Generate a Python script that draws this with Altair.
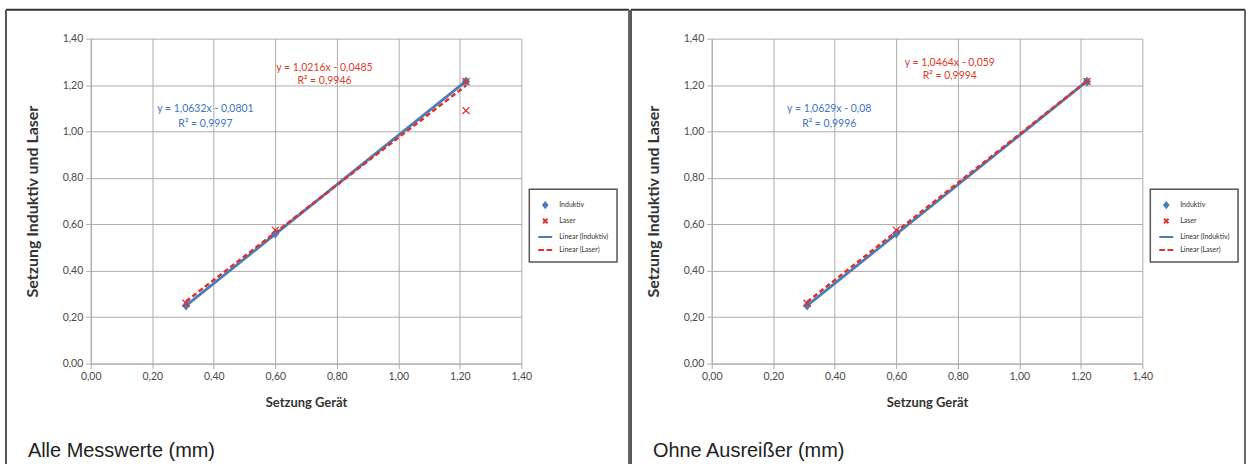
import altair as alt
import pandas as pd

# Settlement measurements in mm (x: device, y: inductive / laser)
geraet = [0.31, 0.60, 1.22]
induktiv = [0.25, 0.56, 1.215]
laser = [0.26, 0.575, 1.215]
ausreisser_x = [1.22]
ausreisser_y = [1.09]

# Linear trend lines (slope, intercept, R²) for Induktiv / Laser
steigung_alle = [1.0632, 1.0216]
achse_alle = [-0.0801, -0.0485]
r2_alle = [0.9997, 0.9946]
steigung_ohne = [1.0629, 1.0464]
achse_ohne = [-0.08, -0.059]
r2_ohne = [0.9996, 0.9994]

serien = ["Induktiv", "Laser"]
legende = ["Induktiv", "Laser", "Linear (Induktiv)", "Linear (Laser)"]
tick_werte = [0.0, 0.2, 0.4, 0.6, 0.8, 1.0, 1.2, 1.4]
titel = ["Alle Messwerte (mm)", "Ohne Ausreißer (mm)"]

BLAU = "#4a7ebb"
ROT = "#e0312b"
BLAU_TXT = "#3f74c4"
ROT_TXT = "#e03a2a"
GRID = "#acacac"
FONT = "Lato"

# Symbols: diamond, X, solid line, dashed line
formen = [
    "M0,-0.36L0.3,0L0,0.36L-0.3,0Z",
    "M-0.32,-0.32L0.32,0.32M-0.32,0.32L0.32,-0.32",
    "M-1,0L1,0",
    "M-1,0L-0.18,0M0.18,0L1,0",
]
farben = [BLAU, ROT, BLAU, ROT]


def fmt(v, stellen=4):
    s = f"{abs(v):.{stellen}f}".rstrip("0").rstrip(".")
    return s.replace(".", ",")


def gleichung(m, b):
    vz = "-" if b < 0 else "+"
    return f"y = {fmt(m)}x {vz} {fmt(b)}"


lab_expr = "replace(format(datum.value, '.2f'), '.', ',')"

x_enc = alt.X(
    "x:Q",
    scale=alt.Scale(domain=[0, 1.4], nice=False, zero=False),
    axis=alt.Axis(
        values=tick_werte, labelExpr=lab_expr, title="Setzung Gerät",
        grid=True, gridColor=GRID, domainColor=GRID, tickColor=GRID,
        tickSize=5, labelFontSize=10.5, labelColor="#4a4a4a", labelPadding=3,
        labelFlush=False, labelOverlap=False,
        titleFontSize=13, titleFont=FONT, titleFontWeight="bold",
        titleColor="#333", titlePadding=15, labelFont=FONT,
    ),
)
y_enc = alt.Y(
    "y:Q",
    scale=alt.Scale(domain=[0, 1.4], nice=False, zero=False),
    axis=alt.Axis(
        values=tick_werte, labelExpr=lab_expr,
        title="Setzung Induktiv und Laser",
        grid=True, gridColor=GRID, domainColor=GRID, tickColor=GRID,
        tickSize=5, labelFontSize=10.5, labelColor="#4a4a4a", labelPadding=3,
        labelFlush=False, labelOverlap=False,
        titleFontSize=16, titleFont=FONT, titleFontWeight="bold",
        titleColor="#333", titlePadding=22, labelFont=FONT,
    ),
)


def panel(punkte, steigung, achse, r2, lab_pos, caption, rahmen):
    leg = alt.Legend(
        title=None, orient="none", legendX=440, legendY=151,
        symbolSize=196, symbolStrokeWidth=2, labelFontSize=7,
        labelFont=FONT, labelColor="#333", labelOffset=6, rowPadding=1,
        padding=8, strokeColor="#555", fillColor="white",
    )
    sc_shape = alt.Scale(domain=legende, range=formen)
    sc_col = alt.Scale(domain=legende, range=farben)

    pts = alt.Chart(punkte).mark_point(size=480, strokeWidth=1.3, opacity=1).encode(
        x=x_enc, y=y_enc,
        shape=alt.Shape("serie:N", scale=sc_shape, legend=leg),
        fill=alt.Fill("serie:N", scale=sc_col, legend=leg),
        stroke=alt.Stroke("serie:N", scale=sc_col, legend=leg),
    )

    # trend lines over the measured range
    linien = []
    texte = []
    for i, s in enumerate(serien):
        d = punkte[punkte.serie == s]
        xs = [d.x.min(), d.x.max()]
        df = pd.DataFrame({"x": xs, "y": [steigung[i] * v + achse[i] for v in xs]})
        stil = dict(color=BLAU, strokeWidth=2.8) if i == 0 else dict(
            color=ROT, strokeWidth=2.5, strokeDash=[5, 3])
        linien.append(alt.Chart(df).mark_line(**stil).encode(x="x:Q", y="y:Q"))
        lx, ly1, ly2 = lab_pos[i]
        tdf = pd.DataFrame({
            "x": [lx, lx], "y": [ly1, ly2],
            "t": [gleichung(steigung[i], achse[i]), f"R² = {fmt(r2[i])}"],
        })
        texte.append(
            alt.Chart(tdf).mark_text(
                font=FONT, fontSize=10.5, color=BLAU_TXT if i == 0 else ROT_TXT,
            ).encode(x="x:Q", y="y:Q", text="t:N")
        )

    leer = alt.Data(values=[{}])
    x0, x1, ytop, ybot = rahmen
    rahmen_oben = alt.Chart(leer).mark_rule(color="#333", strokeWidth=2).encode(
        x=alt.value(x0), x2=alt.value(x1), y=alt.value(ytop))
    rahmen_l = alt.Chart(leer).mark_rule(color="#555", strokeWidth=2).encode(
        x=alt.value(x0), y=alt.value(ytop), y2=alt.value(ybot))
    rahmen_r = alt.Chart(leer).mark_rule(color="#666", strokeWidth=2).encode(
        x=alt.value(x1), y=alt.value(ytop), y2=alt.value(ybot))
    cap = alt.Chart(leer).mark_text(
        text=caption, font="Liberation Sans", fontSize=20, align="left",
        baseline="alphabetic", color="#222",
    ).encode(x=alt.value(x0 + 22), y=alt.value(420))

    return alt.layer(
        rahmen_oben, rahmen_l, rahmen_r, *linien, pts, *texte, cap
    ).properties(width=432, height=326)


def punkte_df(lx, ly):
    rows = [{"x": a, "y": b, "serie": "Induktiv"} for a, b in zip(geraet, induktiv)]
    rows += [{"x": a, "y": b, "serie": "Laser"} for a, b in zip(lx, ly)]
    return pd.DataFrame(rows)


links = panel(
    punkte_df(geraet + ausreisser_x, laser + ausreisser_y),
    steigung_alle, achse_alle, r2_alle,
    [(0.373, 1.095, 1.030), (0.76, 1.275, 1.219)],
    titel[0], (-85, 540, -29, 427),
)
rechts = panel(
    punkte_df(geraet, laser),
    steigung_ohne, achse_ohne, r2_ohne,
    [(0.382, 1.095, 1.033), (0.774, 1.297, 1.241)],
    titel[1], (-81, 535, -29, 427),
)

chart = alt.hconcat(links, rechts, spacing=0).resolve_scale(
    shape="independent", fill="independent", stroke="independent"
).properties(
    padding={"left": 5, "top": 8, "right": 3, "bottom": 0},
    background="white",
).configure_view(strokeWidth=0).configure_legend(strokeWidth=1.5)

chart.save("out.html", embed_options={"renderer": "svg", "actions": False})
